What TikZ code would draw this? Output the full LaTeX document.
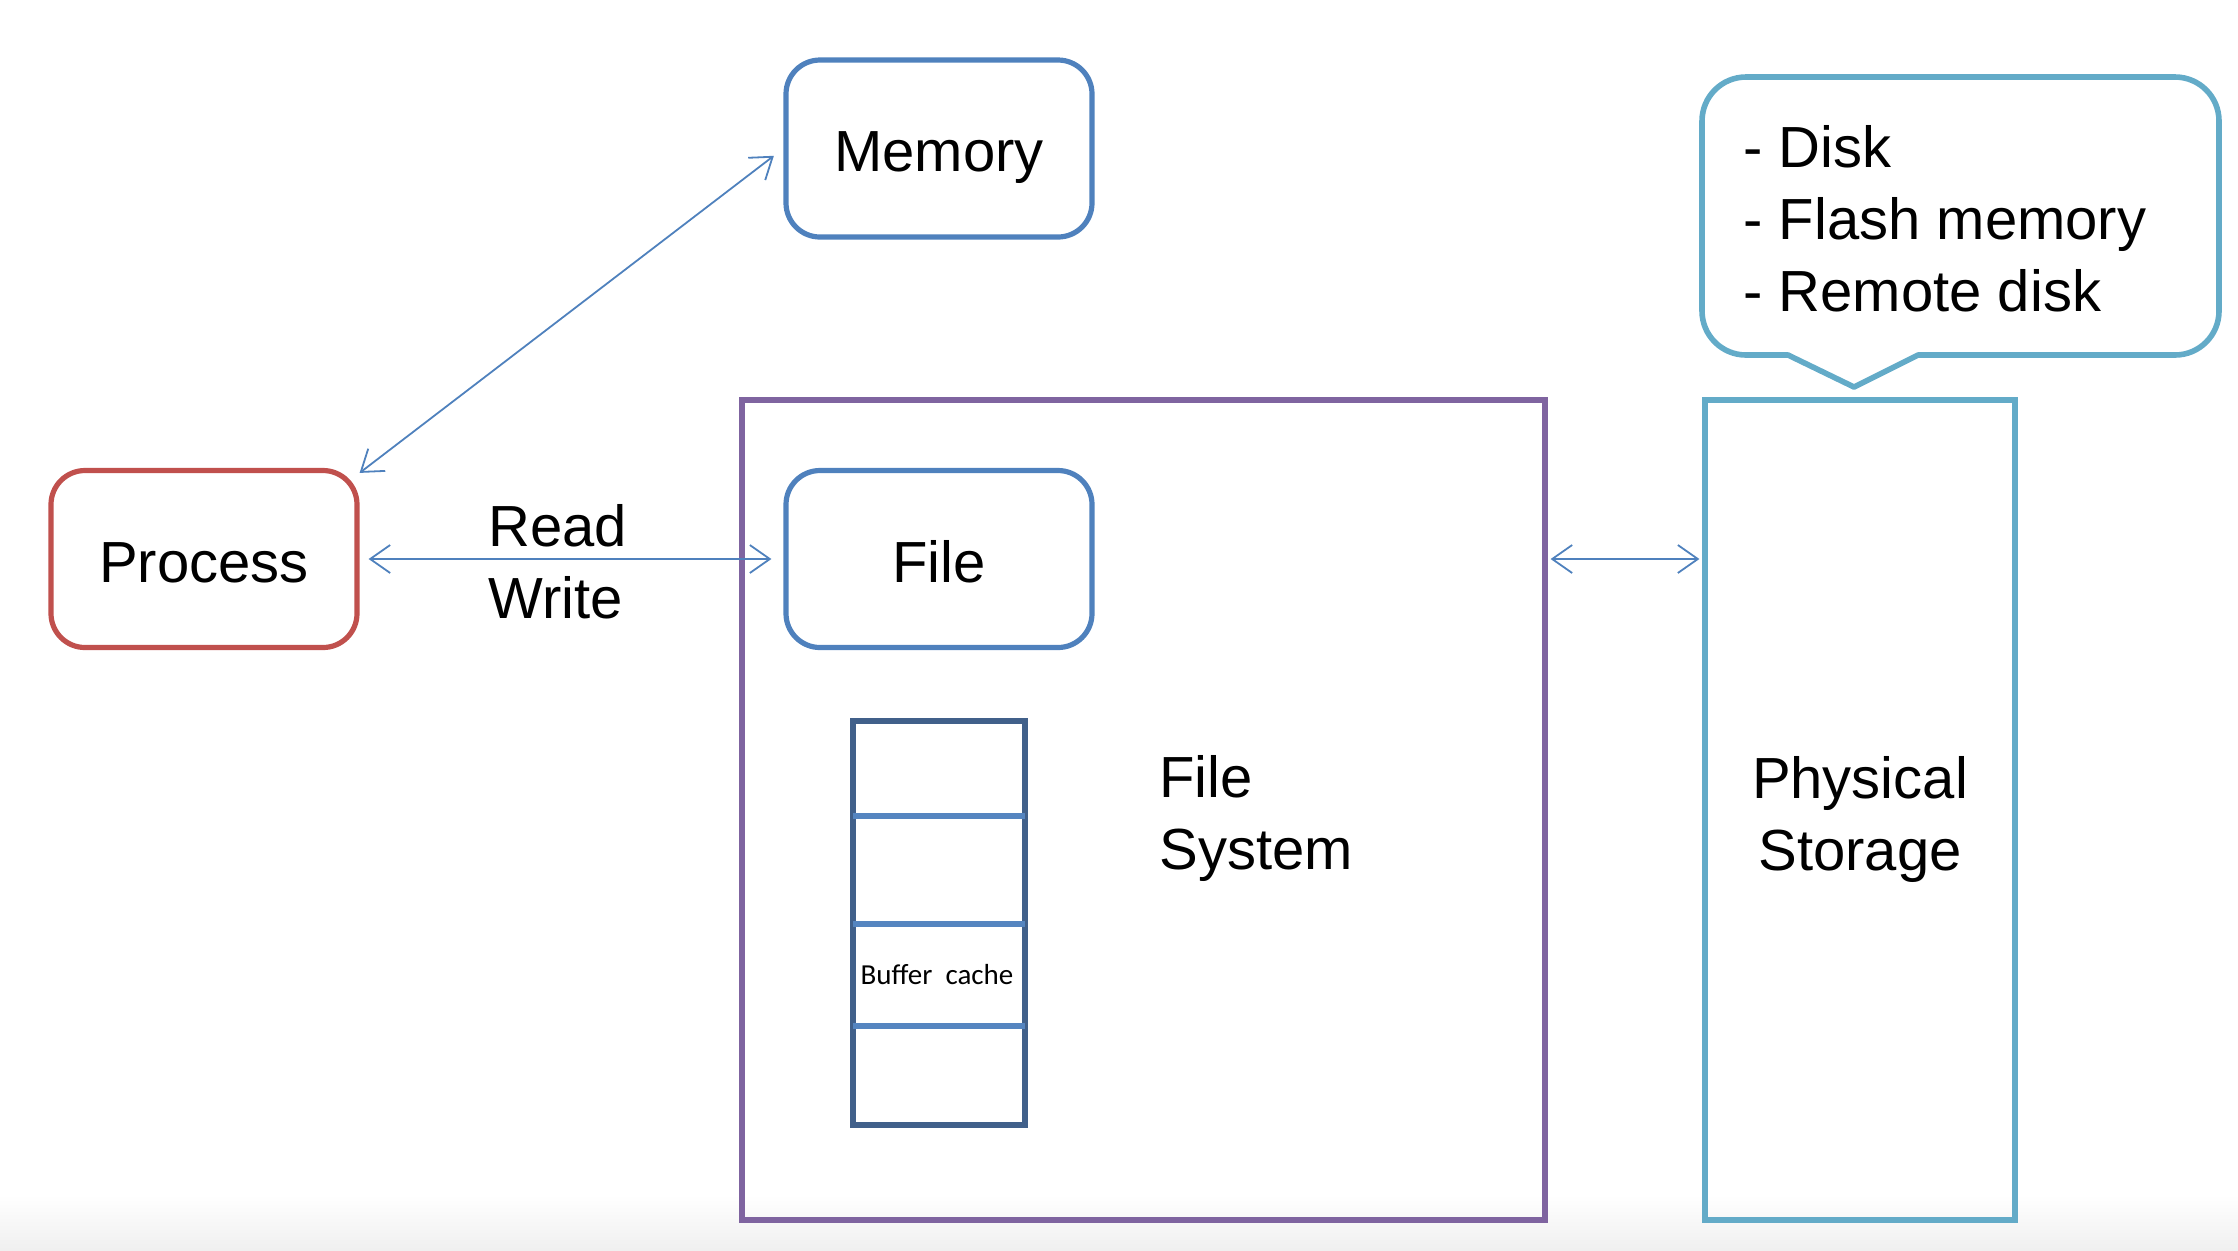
\documentclass[tikz,border=0pt]{standalone}
\usepackage{fontspec}
\setmainfont{Liberation Sans}
\newfontfamily\calib{Carlito}
\usetikzlibrary{arrows.meta,calc}
\definecolor{procred}{HTML}{C0504D}
\definecolor{boxblue}{HTML}{4F81BD}
\definecolor{fspurple}{HTML}{7F64A0}
\definecolor{stcyan}{HTML}{63ABC8}
\definecolor{bufdark}{HTML}{41608A}
\definecolor{bufline}{HTML}{5585C0}
\tikzset{
  bigfont/.style={font=\fontsize{29}{36}\selectfont},
  roundbox/.style={draw, line width=2.6pt, rounded corners=17pt, minimum width=153pt, minimum height=88.5pt, bigfont, text height=23pt, text depth=0pt, inner sep=0pt},
  arr/.style={{Straight Barb[length=10pt,width=14pt]}-{Straight Barb[length=10pt,width=14pt]}, line width=0.9pt, boxblue},
  plainbox/.style={draw, line width=2.8pt, minimum width=#1, inner sep=0pt},
}
\begin{document}
\begin{tikzpicture}[x=0.5pt,y=-0.5pt]
\useasboundingbox (0,0) rectangle (2238,1250);
\shade[top color=white, bottom color=black!6] (0,1195) rectangle (2238,1250);
% nodes
\node[roundbox, procred] (process) at (204,559) {\textcolor{black}{Process}};
\node[roundbox, boxblue] (memory) at (939,148.5) {\textcolor{black}{Memory}};
\node[roundbox, boxblue] (file) at (939,559) {\textcolor{black}{File}};
\node[plainbox=401.5pt, fspurple, minimum height=410pt] (fs) at (1143.5,810) {};
\node[plainbox=155pt, stcyan, minimum height=410pt] (phys) at (1860,810) {};
% buffer cache
\node[draw=bufdark, line width=3pt, minimum width=86pt, minimum height=202pt, inner sep=0pt] (buffer) at (939,923) {};
\draw[bufline, line width=2.6pt] (853,816) -- (1025,816);
\draw[bufline, line width=2.6pt] (853,924) -- (1025,924);
\draw[bufline, line width=2.6pt] (853,1026) -- (1025,1026);
\node[font=\calib\fontsize{14.5}{16}\selectfont, text height=9.3pt, text depth=0pt, inner sep=0pt] (bctext) at (937,975) {Buffer~ cache};
% labels
\node[bigfont, align=left, anchor=west, inner sep=0pt] (rw) at (488,562) {Read\\Write};
\node[bigfont, align=left, anchor=north west, inner sep=0pt] (fslabel) at (1159,755) {File\\System};
\node[bigfont, align=center, inner sep=0pt] (physlabel) at (1860,819) {Physical\\Storage};
% callout
\node[bigfont, align=left, anchor=north west, inner sep=0pt] (callout) at (1743,125) {- Disk\\- Flash memory\\- Remote disk};
\draw[stcyan, line width=2.8pt, line join=round]
  (1854,387) -- (1788,355) [rounded corners=22pt] -- (1702,355) -- (1702,77) -- (2219,77) -- (2219,355) [sharp corners] -- (1918,355) -- cycle;
% connectors
\draw[arr, shorten <=4.5pt, shorten >=6pt] (process.east) -- (file.west);
\draw[arr, shorten >=6pt] ([yshift=-2.5pt]process.north east) -- (memory.west);
\draw[arr, shorten <=1.4pt, shorten >=1.4pt] (fs.east |- file.west) -- (phys.west |- file.west);
\end{tikzpicture}
\end{document}
